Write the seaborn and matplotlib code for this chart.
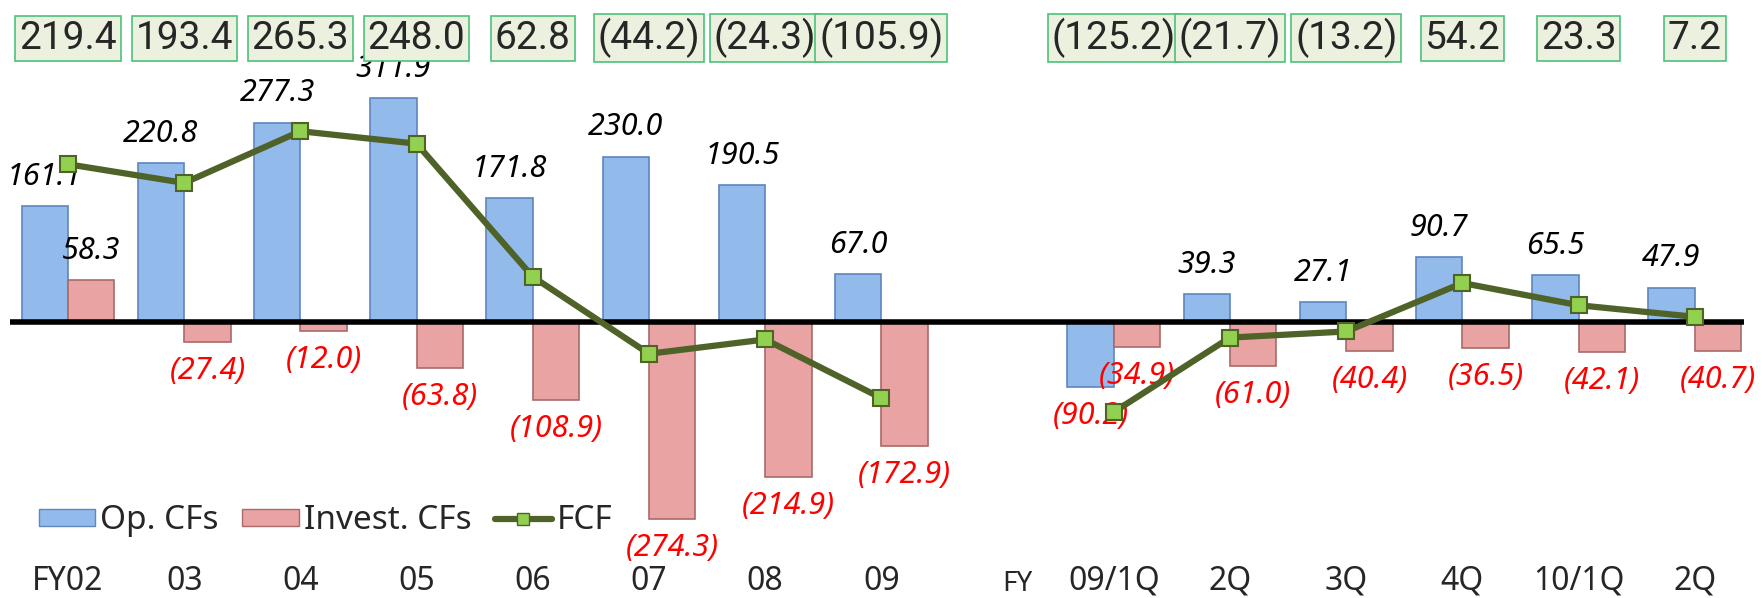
import seaborn as sns
import matplotlib.pyplot as plt
import pandas as pd
from matplotlib.patches import Patch
from matplotlib.lines import Line2D

# periods: 8 fiscal years, an empty slot, then 6 quarters
periods = ['FY02', '03', '04', '05', '06', '07', '08', '09',
           '09/1Q', '2Q', '3Q', '4Q', '10/1Q', '2Q']
op_cf = [161.1, 220.8, 277.3, 311.9, 171.8, 230.0, 190.5, 67.0,
         -90.2, 39.3, 27.1, 90.7, 65.5, 47.9]
inv_cf = [58.3, -27.4, -12.0, -63.8, -108.9, -274.3, -214.9, -172.9,
          -34.9, -61.0, -40.4, -36.5, -42.1, -40.7]
fcf = [219.4, 193.4, 265.3, 248.0, 62.8, -44.2, -24.3, -105.9,
       -125.2, -21.7, -13.2, 54.2, 23.3, 7.2]

slots = list(range(8)) + list(range(9, 15))

sns.set_style('white')
plt.rcParams['font.family'] = ['Noto Sans', 'DejaVu Sans']

op_col, op_edge = '#92bbec', '#5f86bd'
inv_col, inv_edge = '#e9a3a3', '#a86a6a'
line_col, mark_col = '#4f6228', '#92d050'

df = pd.DataFrame({
    'slot': slots * 2,
    'value': op_cf + inv_cf,
    'kind': ['Op. CFs'] * len(op_cf) + ['Invest. CFs'] * len(inv_cf),
})

fig = plt.figure(figsize=(17.62, 5.98), dpi=100)
ax = fig.add_axes([0, 36 / 598, 1, 562 / 598])

sns.barplot(data=df, x='slot', y='value', hue='kind', order=list(range(15)),
            hue_order=['Op. CFs', 'Invest. CFs'],
            palette={'Op. CFs': op_col, 'Invest. CFs': inv_col},
            saturation=1, errorbar=None, width=0.8, legend=False,
            linewidth=1.2, ax=ax, zorder=2)
for cont, ec in zip(ax.containers, [op_edge, inv_edge]):
    for p in cont.patches:
        p.set_edgecolor(ec)

# value labels on bars
for cont in ax.containers:
    for p in cont.patches:
        h = p.get_height()
        if h != h:
            continue
        xc = p.get_x() + p.get_width() / 2
        if h >= 0:
            ax.annotate(f'{h:.1f}', (xc, h), xytext=(0, 21), textcoords='offset points',
                        ha='center', va='center', fontsize=22, style='italic', color='black')
        else:
            ax.annotate(f'({-h:.1f})', (xc, h), xytext=(0, -21), textcoords='offset points',
                        ha='center', va='center', fontsize=22, style='italic', color='red')

ax.hlines(0, -0.5, 14.42, color='black', lw=4, zorder=3)

# FCF line, two separate pieces
for a, b in [(0, 8), (8, 14)]:
    ax.plot(slots[a:b], fcf[a:b], color=line_col, lw=4.5, marker='s', ms=11,
            mfc=mark_col, mec=line_col, mew=1.5, zorder=4)

# FCF value cells on top
for s, v in zip(slots, fcf):
    txt = f'{v:.1f}' if v >= 0 else f'({-v:.1f})'
    ax.text(s, 0.932, txt, transform=ax.get_xaxis_transform(), ha='center', va='center',
            fontsize=28, family='Roboto',
            bbox=dict(boxstyle='square,pad=0.1', fc='#ebf1de', ec='#4cc27a', lw=1.2))

ax.set_xlim(-68 / 116.2, (1762 - 68) / 116.2)
ax.set_ylim(-333.8, 447.8)
ax.set_xticks(slots)
ax.set_xticklabels(periods, fontsize=23)
ax.tick_params(axis='x', length=0, pad=2)
ax.set_yticks([])
ax.set_xlabel('')
ax.set_ylabel('')
sns.despine(ax=ax, left=True, bottom=True)
ax.text(8.17, -0.04, 'FY', transform=ax.get_xaxis_transform(), ha='center', va='center',
        fontsize=20)

handles = [Patch(fc=op_col, ec=op_edge), Patch(fc=inv_col, ec=inv_edge),
           Line2D([], [], color=line_col, lw=4.5, marker='s', ms=9, mfc=mark_col, mec=line_col)]
ax.legend(handles, ['Op. CFs', 'Invest. CFs', 'FCF'], loc='center left',
          bbox_to_anchor=(0.022, 0.073), frameon=False, ncol=3, fontsize=24,
          handlelength=1.7, handleheight=0.4, handletextpad=0.15, columnspacing=0.7,
          borderaxespad=0, borderpad=0)

fig.savefig('out.png', dpi=100)
